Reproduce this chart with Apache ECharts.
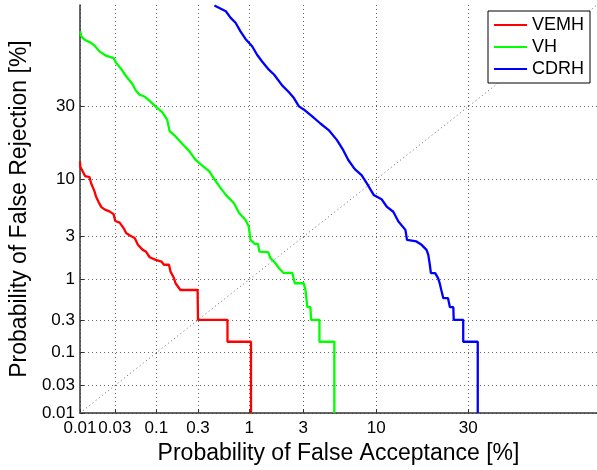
<!DOCTYPE html>
<html><head><meta charset="utf-8">
<script src="https://cdn.jsdelivr.net/npm/echarts@6/dist/echarts.min.js"></script>
<style>html,body{margin:0;padding:0;background:#fff}#c{width:597px;height:470px}</style>
</head><body><div id="c"></div>
<script>
// Tick labels (percent) on both axes
const tickValues = [0.01, 0.03, 0.1, 0.3, 1, 3, 10, 30];
const tickLabels = ['0.01', '0.03', '0.1', '0.3', '1', '3', '10', '30'];
const axisMinPct = 0.01;
const axisMaxPct = 70.4;
const seriesNames = ['VEMH', 'VH', 'CDRH'];
const seriesColors = ['#ff0000', '#00ff00', '#0000ff'];

// VEMH: false acceptance % / false rejection %
const vemhFA = [0.01, 0.0101, 0.0118, 0.0136, 0.0143, 0.0159, 0.0167, 0.0182, 0.0198, 0.0221, 0.0254, 0.0288, 0.0303, 0.0346, 0.0389, 0.042, 0.0475, 0.054, 0.0592, 0.068, 0.0746, 0.083, 0.098, 0.115, 0.123, 0.141, 0.147, 0.161, 0.168, 0.191, 0.297, 0.3, 0.612, 0.612, 1.04, 1.04];
const vemhFR = [13.6, 12.5, 10.6, 10.4, 9.3, 8.0, 7.2, 6.4, 5.8, 5.5, 5.3, 5.0, 4.3, 4.15, 3.67, 3.27, 3.07, 2.91, 2.48, 2.18, 2.09, 1.81, 1.69, 1.62, 1.49, 1.49, 1.24, 1.04, 0.90, 0.742, 0.742, 0.3, 0.3, 0.146, 0.146, 0.01];

// VH
const vhFA = [0.0101, 0.0104, 0.0116, 0.0143, 0.0159, 0.0186, 0.0229, 0.0288, 0.0312, 0.0362, 0.042, 0.0503, 0.0555, 0.062, 0.0714, 0.082, 0.0975, 0.118, 0.1345, 0.1434, 0.168, 0.2, 0.238, 0.283, 0.336, 0.397, 0.449, 0.508, 0.589, 0.711, 0.796, 0.921, 0.99, 1.028, 1.129, 1.21, 1.245, 1.5, 1.57, 1.72, 1.87, 2.04, 2.43, 2.55, 3.02, 3.12, 3.23, 3.42, 3.46, 4.02, 4.02, 5.2, 5.2];
const vhFR = [60.3, 58.3, 56.9, 55.6, 54.5, 52.1, 50.3, 49.3, 47.3, 44.8, 41.8, 38.8, 36.2, 34.5, 33.8, 32.2, 30.1, 28.0, 25.4, 21.8, 20.2, 18.1, 16.3, 14.0, 12.7, 11.5, 10.0, 8.72, 7.43, 6.29, 5.15, 4.4, 3.8, 2.78, 2.53, 2.53, 2.09, 2.06, 1.77, 1.58, 1.36, 1.2, 1.2, 0.9, 0.9, 0.742, 0.445, 0.445, 0.3, 0.3, 0.146, 0.146, 0.01];

// CDRH
const cdrhFA = [0.449, 0.589, 0.659, 0.737, 0.824, 0.921, 1.066, 1.186, 1.32, 1.52, 1.69, 2.0, 2.28, 2.51, 2.76, 3.02, 3.53, 4.09, 4.72, 5.42, 6.03, 6.54, 7.25, 8.05, 8.7, 9.65, 10.8, 11.6, 12.7, 13.6, 14.9, 15.2, 17.1, 18.2, 19.3, 19.7, 20.0, 20.3, 21.3, 22.0, 22.4, 22.8, 23.3, 24.5, 25.0, 25.9, 26.0, 28.6, 28.6, 32.8, 32.8];
const cdrhFR = [70.2, 68.1, 65.6, 63.7, 60.3, 57.2, 54.2, 50.7, 47.9, 44.5, 42.5, 38.0, 35.4, 33.2, 30.1, 29.0, 26.6, 24.2, 22.1, 19.2, 16.4, 14.0, 12.0, 10.8, 9.31, 7.43, 6.82, 5.87, 5.26, 4.25, 3.52, 2.78, 2.68, 2.47, 2.18, 1.92, 1.55, 1.19, 1.19, 1.037, 0.9, 0.742, 0.584, 0.584, 0.445, 0.445, 0.3, 0.3, 0.146, 0.146, 0.01];

// Equal error diagonal
const diagPct = [0.01, 70.4];

// inverse standard normal CDF (Acklam), input percent
function probit(pct) {
  const p = pct / 100;
  const a = [-3.969683028665376e+01, 2.209460984245205e+02, -2.759285104469687e+02, 1.383577518672690e+02, -3.066479806614716e+01, 2.506628277459239e+00];
  const b = [-5.447609879822406e+01, 1.615858368580409e+02, -1.556989798598866e+02, 6.680131188771972e+01, -1.328068155288572e+01];
  const c = [-7.784894002430293e-03, -3.223964580411365e-01, -2.400758277161838e+00, -2.549732539343734e+00, 4.374664141464968e+00, 2.938163982698783e+00];
  const d = [7.784695709041462e-03, 3.224671290700398e-01, 2.445134137142996e+00, 3.754408661907416e+00];
  const pl = 0.02425, ph = 1 - pl;
  let q, r;
  if (p < pl) {
    q = Math.sqrt(-2 * Math.log(p));
    return (((((c[0]*q+c[1])*q+c[2])*q+c[3])*q+c[4])*q+c[5]) / ((((d[0]*q+d[1])*q+d[2])*q+d[3])*q+1);
  }
  if (p <= ph) {
    q = p - 0.5; r = q * q;
    return (((((a[0]*r+a[1])*r+a[2])*r+a[3])*r+a[4])*r+a[5])*q / (((((b[0]*r+b[1])*r+b[2])*r+b[3])*r+b[4])*r+1);
  }
  q = Math.sqrt(-2 * Math.log(1 - p));
  return -(((((c[0]*q+c[1])*q+c[2])*q+c[3])*q+c[4])*q+c[5]) / ((((d[0]*q+d[1])*q+d[2])*q+d[3])*q+1);
}

function pairs(fa, fr) { return fa.map((v, i) => [probit(v), probit(fr[i])]); }
const tickProbits = tickValues.map(probit);
function fmt(v) {
  for (let i = 0; i < tickProbits.length; i++) if (Math.abs(tickProbits[i] - v) < 1e-6) return tickLabels[i];
  return '';
}

const FONT = '"Liberation Sans", Arial, Helvetica, sans-serif';
function axis(isX) {
  return {
    type: 'value',
    min: probit(axisMinPct),
    max: probit(axisMaxPct),
    name: isX ? 'Probability of False Acceptance [%]' : 'Probability of False Rejection [%]',
    nameLocation: 'middle',
    nameGap: isX ? 23 : 46,
    nameTextStyle: { fontFamily: FONT, fontSize: 23, color: '#000' },
    axisLine: { show: true, onZero: false, lineStyle: { color: '#333', width: 1.5 } },
    axisTick: { show: true, inside: true, length: 4, customValues: tickProbits, lineStyle: { color: '#333' } },
    axisLabel: { customValues: tickProbits, formatter: fmt, fontFamily: FONT, fontSize: 17, color: '#000', margin: isX ? 7 : 5, showMinLabel: true, showMaxLabel: true, hideOverlap: false },
    splitLine: { show: true, lineStyle: { color: '#666', type: [1, 3], width: 1 } }
  };
}

const series = [
  {
    name: 'diag', type: 'line', data: pairs(diagPct, diagPct), symbol: 'none', silent: true,
    lineStyle: { color: '#666', type: [1, 3], width: 1 }, z: 1
  },
  { name: seriesNames[0], type: 'line', data: pairs(vemhFA, vemhFR), symbol: 'none', color: seriesColors[0], lineStyle: { width: 2.3 }, z: 3 },
  { name: seriesNames[1], type: 'line', data: pairs(vhFA, vhFR), symbol: 'none', color: seriesColors[1], lineStyle: { width: 2.3 }, z: 3 },
  { name: seriesNames[2], type: 'line', data: pairs(cdrhFA, cdrhFR), symbol: 'none', color: seriesColors[2], lineStyle: { width: 2.3 }, z: 3 }
];

const chart = echarts.init(document.getElementById('c'), null, { renderer: 'canvas' });
chart.setOption({
  animation: false,
  backgroundColor: '#fff',
  grid: { left: 77, right: 0, top: 5, bottom: 57, containLabel: false },
  xAxis: axis(true),
  yAxis: axis(false),
  legend: {
    data: seriesNames,
    orient: 'vertical',
    left: 488, top: 11,
    padding: [5, 6, 5, 6],
    itemGap: 4,
    icon: 'rect',
    itemWidth: 33, itemHeight: 2,
    backgroundColor: '#fff',
    borderColor: '#000', borderWidth: 1,
    textStyle: { fontFamily: FONT, fontSize: 18, color: '#000', lineHeight: 18 },
    z: 10
  },
  series: series
});
</script></body></html>
